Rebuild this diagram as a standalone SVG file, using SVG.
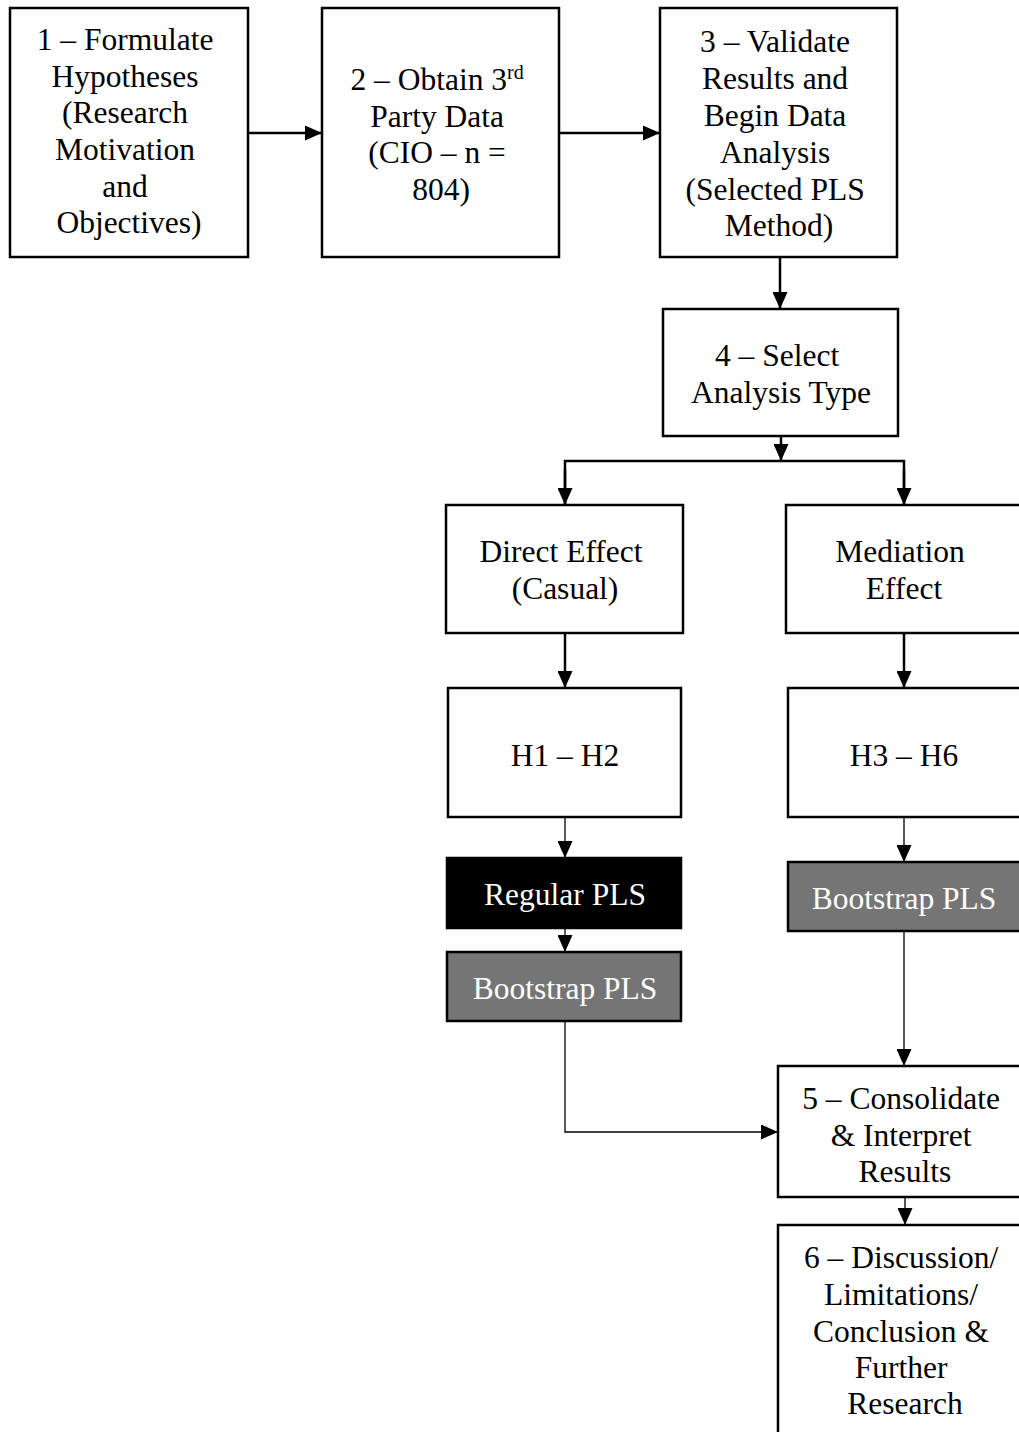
<svg xmlns="http://www.w3.org/2000/svg" width="1019" height="1432" viewBox="0 0 1019 1432">
  <style>
    .box { fill: #ffffff; stroke: #000000; stroke-width: 2.5; }
    .dark { fill: #000000; stroke: #000000; stroke-width: 2.5; }
    .grey { fill: #757575; stroke: #000000; stroke-width: 2.5; }
    .t { font-family: "Liberation Serif", "Times New Roman", serif; font-size: 31.5px; fill: #000000; text-anchor: middle; }
    .tw { fill: #ffffff; }
    .sup { font-size: 20px; }
    .thick { stroke: #000000; stroke-width: 2.5; fill: none; }
    .thin { stroke: #000000; stroke-width: 1.3; fill: none; }
  </style>
  <defs>
    <marker id="arrow" markerUnits="userSpaceOnUse" markerWidth="17" markerHeight="15" refX="17" refY="7.5" orient="auto">
      <path d="M0,0 L17,7.5 L0,15 Z" fill="#000000"/>
    </marker>
  </defs>
  <rect width="1019" height="1432" fill="#ffffff"/>

  <!-- connectors -->
  <g id="connectors">
    <line class="thick" x1="248" y1="133" x2="322" y2="133" marker-end="url(#arrow)"/>
    <line class="thick" x1="559" y1="133" x2="660" y2="133" marker-end="url(#arrow)"/>
    <line class="thick" x1="780" y1="257" x2="780" y2="309" marker-end="url(#arrow)"/>
    <line class="thick" x1="781" y1="436" x2="781" y2="461" marker-end="url(#arrow)"/>
    <polyline class="thick" points="565,505 565,461 904,461 904,505"/>
    <line class="thick" x1="565" y1="470" x2="565" y2="505" marker-end="url(#arrow)"/>
    <line class="thick" x1="904" y1="470" x2="904" y2="505" marker-end="url(#arrow)"/>
    <line class="thick" x1="565" y1="633" x2="565" y2="688" marker-end="url(#arrow)"/>
    <line class="thick" x1="904" y1="633" x2="904" y2="688" marker-end="url(#arrow)"/>
    <line class="thin" x1="565" y1="817" x2="565" y2="858" marker-end="url(#arrow)"/>
    <line class="thin" x1="565" y1="928" x2="565" y2="952" marker-end="url(#arrow)"/>
    <line class="thin" x1="904" y1="817" x2="904" y2="862" marker-end="url(#arrow)"/>
    <line class="thin" x1="904" y1="931" x2="904" y2="1066" marker-end="url(#arrow)"/>
    <polyline class="thin" points="565,1021 565,1132 778,1132" marker-end="url(#arrow)"/>
    <line class="thin" x1="905" y1="1197" x2="905" y2="1225" marker-end="url(#arrow)"/>
  </g>

  <!-- 1 -->
  <g id="n1">
    <rect class="box" x="10" y="8" width="238" height="249"/>
    <text class="t" x="129">
      <tspan x="129" y="50">1 – Formulate</tspan>
      <tspan x="129" y="87">Hypotheses</tspan>
      <tspan x="129" y="123">(Research</tspan>
      <tspan x="129" y="160">Motivation</tspan>
      <tspan x="129" y="197">and</tspan>
      <tspan x="129" y="233">Objectives)</tspan>
    </text>
  </g>

  <!-- 2 -->
  <g id="n2">
    <rect class="box" x="322" y="8" width="237" height="249"/>
    <text class="t">
      <tspan x="441" y="90">2 – Obtain 3<tspan class="sup" dy="-11">rd</tspan></tspan>
      <tspan x="441" y="127">Party Data</tspan>
      <tspan x="441" y="163">(CIO – n =</tspan>
      <tspan x="441" y="200">804)</tspan>
    </text>
  </g>

  <!-- 3 -->
  <g id="n3">
    <rect class="box" x="660" y="8" width="237" height="249"/>
    <text class="t">
      <tspan x="779" y="52">3 – Validate</tspan>
      <tspan x="779" y="89">Results and</tspan>
      <tspan x="779" y="126">Begin Data</tspan>
      <tspan x="779" y="163">Analysis</tspan>
      <tspan x="779" y="200">(Selected PLS</tspan>
      <tspan x="779" y="236">Method)</tspan>
    </text>
  </g>

  <!-- 4 -->
  <g id="n4">
    <rect class="box" x="663" y="309" width="235" height="127"/>
    <text class="t">
      <tspan x="781" y="366">4 – Select</tspan>
      <tspan x="781" y="403">Analysis Type</tspan>
    </text>
  </g>

  <!-- direct effect branch -->
  <g id="direct">
    <rect class="box" x="446" y="505" width="237" height="128"/>
    <text class="t">
      <tspan x="565" y="562">Direct Effect</tspan>
      <tspan x="565" y="599">(Casual)</tspan>
    </text>
  </g>
  <g id="h1h2">
    <rect class="box" x="448" y="688" width="233" height="129"/>
    <text class="t" x="565" y="766">H1 – H2</text>
  </g>
  <g id="regular">
    <rect class="dark" x="447" y="858" width="234" height="70"/>
    <text class="t tw" x="565" y="905">Regular PLS</text>
  </g>
  <g id="bootstrapL">
    <rect class="grey" x="447" y="952" width="234" height="69"/>
    <text class="t tw" x="565" y="999">Bootstrap PLS</text>
  </g>

  <!-- mediation branch -->
  <g id="mediation">
    <rect class="box" x="786" y="505" width="240" height="128"/>
    <text class="t">
      <tspan x="904" y="562">Mediation</tspan>
      <tspan x="904" y="599">Effect</tspan>
    </text>
  </g>
  <g id="h3h6">
    <rect class="box" x="788" y="688" width="238" height="129"/>
    <text class="t" x="904" y="766">H3 – H6</text>
  </g>
  <g id="bootstrapR">
    <rect class="grey" x="788" y="862" width="238" height="69"/>
    <text class="t tw" x="904" y="909">Bootstrap PLS</text>
  </g>

  <!-- 5 -->
  <g id="n5">
    <rect class="box" x="778" y="1066" width="254" height="131"/>
    <text class="t">
      <tspan x="905" y="1109">5 – Consolidate</tspan>
      <tspan x="905" y="1146">&amp; Interpret</tspan>
      <tspan x="905" y="1182">Results</tspan>
    </text>
  </g>

  <!-- 6 -->
  <g id="n6">
    <rect class="box" x="778" y="1225" width="254" height="230"/>
    <text class="t">
      <tspan x="905" y="1268">6 – Discussion/</tspan>
      <tspan x="905" y="1305">Limitations/</tspan>
      <tspan x="905" y="1342">Conclusion &amp;</tspan>
      <tspan x="905" y="1378">Further</tspan>
      <tspan x="905" y="1414">Research</tspan>
    </text>
  </g>
</svg>
